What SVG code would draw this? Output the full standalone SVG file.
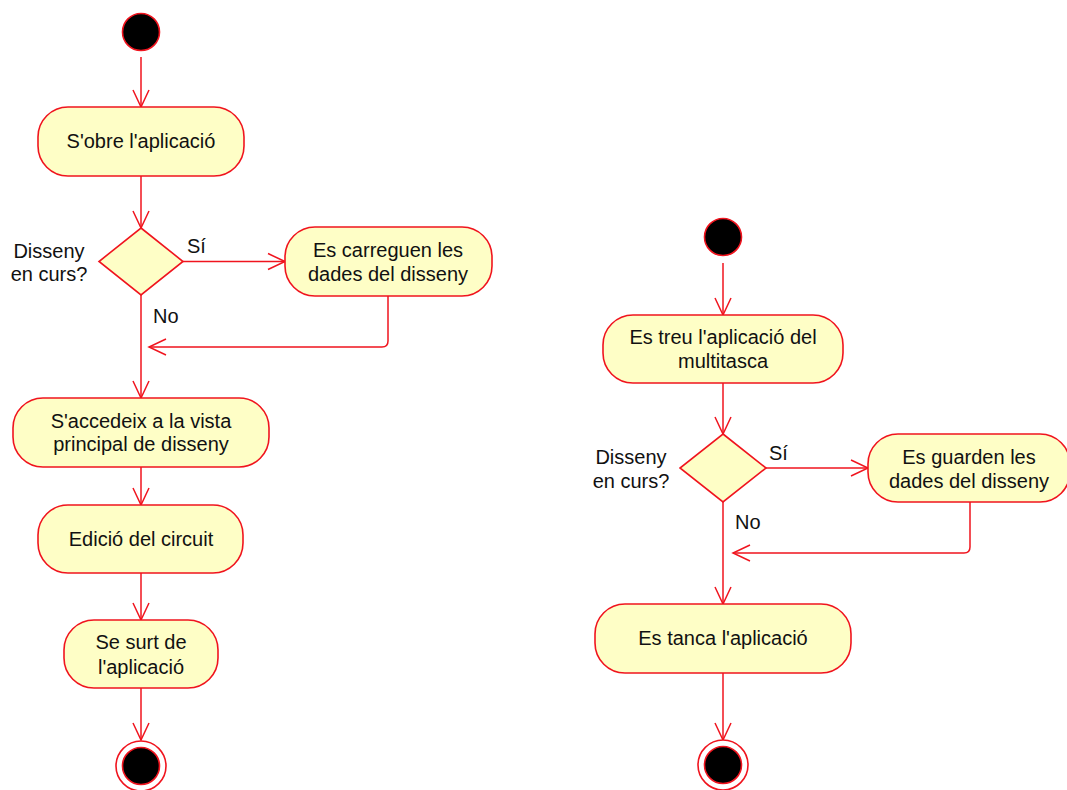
<svg xmlns="http://www.w3.org/2000/svg" width="1067" height="790" viewBox="0 0 1067 790">
  <defs>
    <marker id="arrow" viewBox="0 0 20 20" refX="18" refY="10" markerWidth="20" markerHeight="20" markerUnits="userSpaceOnUse" orient="auto">
      <path d="M1,2 L18,10 L1,18" fill="none" stroke="#f0141e" stroke-width="1.5"/>
    </marker>
  </defs>
  <style>
    .act { fill: #fefec6; stroke: #f0141e; stroke-width: 1.6; }
    .start { fill: #000; stroke: #f0141e; stroke-width: 1.6; }
    .endring { fill: #fff; stroke: #f0141e; stroke-width: 1.6; }
    .edge { fill: none; stroke: #f0141e; stroke-width: 1.5; marker-end: url(#arrow); }
    text { font-family: "Liberation Sans", Arial, sans-serif; font-size: 20px; fill: #111; }
    .c { text-anchor: middle; }
  </style>
  <rect width="1067" height="790" fill="#fff"/>

  <!-- connectors -->
  <g id="connectors">
    <path class="edge" d="M141,57 V107"/>
    <path class="edge" d="M141,176 V228"/>
    <path class="edge" d="M183,261.5 H285"/>
    <path class="edge" d="M141,295 V398"/>
    <path class="edge" d="M388,296 V341 Q388,347 382,347 H149"/>
    <path class="edge" d="M141,467 V505"/>
    <path class="edge" d="M141,573 V620"/>
    <path class="edge" d="M141,688 V740"/>

    <path class="edge" d="M723,263 V315"/>
    <path class="edge" d="M723,383 V434"/>
    <path class="edge" d="M766,468 H868"/>
    <path class="edge" d="M723,502 V604"/>
    <path class="edge" d="M970,502 V547 Q970,553 964,553 H733"/>
    <path class="edge" d="M723,673 V740"/>
  </g>

  <!-- left flow -->
  <g id="start1"><circle class="start" cx="141" cy="32" r="18.5"/></g>
  <g id="obre">
    <rect class="act" x="38" y="107" width="206" height="69" rx="30"/>
    <text class="c" x="141" y="148">S'obre l'aplicació</text>
  </g>
  <g id="decision1">
    <polygon class="act" points="141,228 183,261.5 141,295 99,261.5"/>
    <text class="c" x="49" y="258">Disseny</text>
    <text class="c" x="49" y="281">en curs?</text>
    <text x="187" y="253">Sí</text>
    <text x="153" y="323">No</text>
  </g>
  <g id="carreguen">
    <rect class="act" x="285" y="227" width="207" height="69" rx="30"/>
    <text class="c" x="388" y="257">Es carreguen les</text>
    <text class="c" x="388" y="281">dades del disseny</text>
  </g>
  <g id="accedeix">
    <rect class="act" x="13" y="398" width="256" height="69" rx="30"/>
    <text class="c" x="141" y="428">S'accedeix a la vista</text>
    <text class="c" x="141" y="451">principal de disseny</text>
  </g>
  <g id="edicio">
    <rect class="act" x="38" y="505" width="205" height="68" rx="30"/>
    <text class="c" x="141" y="546">Edició del circuit</text>
  </g>
  <g id="surt">
    <rect class="act" x="64" y="620" width="154" height="68" rx="30"/>
    <text class="c" x="141" y="649">Se surt de</text>
    <text class="c" x="141" y="674">l'aplicació</text>
  </g>
  <g id="end1">
    <circle class="endring" cx="141" cy="766" r="25"/>
    <circle class="start" cx="141" cy="766" r="18.5"/>
  </g>

  <!-- right flow -->
  <g id="start2"><circle class="start" cx="723" cy="237" r="18.5"/></g>
  <g id="treu">
    <rect class="act" x="603" y="315" width="240" height="68" rx="30"/>
    <text class="c" x="723" y="344">Es treu l'aplicació del</text>
    <text class="c" x="723" y="368">multitasca</text>
  </g>
  <g id="decision2">
    <polygon class="act" points="723,434 766,468 723,502 680,468"/>
    <text class="c" x="631" y="464">Disseny</text>
    <text class="c" x="631" y="488">en curs?</text>
    <text x="769" y="460">Sí</text>
    <text x="735" y="529">No</text>
  </g>
  <g id="guarden">
    <rect class="act" x="868" y="434" width="202" height="68" rx="30"/>
    <text class="c" x="969" y="464">Es guarden les</text>
    <text class="c" x="969" y="488">dades del disseny</text>
  </g>
  <g id="tanca">
    <rect class="act" x="595" y="604" width="256" height="69" rx="30"/>
    <text class="c" x="723" y="645">Es tanca l'aplicació</text>
  </g>
  <g id="end2">
    <circle class="endring" cx="723" cy="765" r="25"/>
    <circle class="start" cx="723" cy="765" r="18.5"/>
  </g>
</svg>
